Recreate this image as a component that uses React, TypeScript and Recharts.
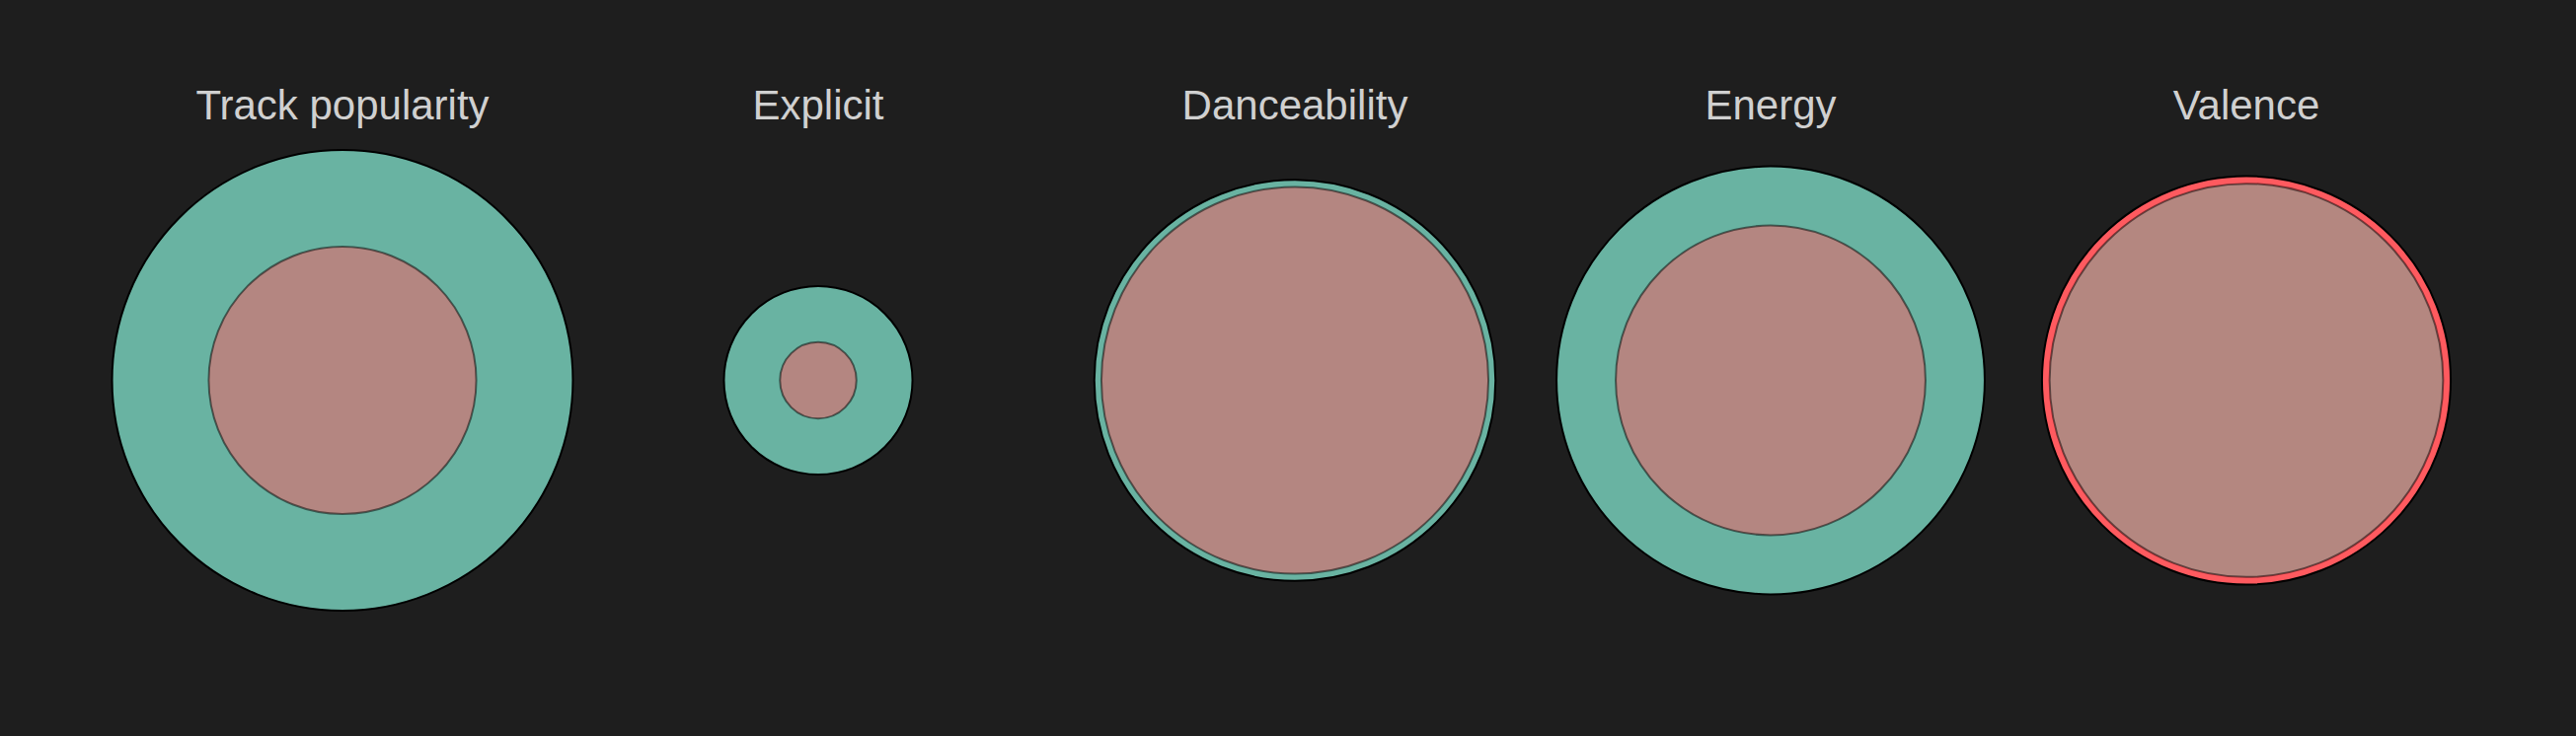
import { ScatterChart, Scatter, XAxis, YAxis, ZAxis } from "recharts";

// one panel per feature, teal = hits, red = non-hits (circle area ~ value)
const features = ["Track popularity", "Explicit", "Danceability", "Energy", "Valence"];
const hitValues = [87.2, 0.146, 0.661, 0.753, 0.636];
const nonHitValues = [29.4, 0.024, 0.615, 0.394, 0.686];
const featureMax = [100, 1, 1, 1, 1];

const TEAL = "#69b3a2";
const RED = "#ff5a5f";
const BG = "#1e1e1e";
const FULL_RADIUS = 250; // circle radius at the feature's max value
const PANEL_W = 482;
const PANEL_STEP = 482.3;
const PANEL_LEFT = 106;
const CHART_H = 746;

function Panel({ index }: { index: number }) {
  // bigger circle goes underneath, smaller one is drawn half transparent on top
  const series = [
    { name: "Hits", color: TEAL, value: hitValues[index] },
    { name: "Non-hits", color: RED, value: nonHitValues[index] },
  ].sort((a, b) => b.value - a.value);

  return (
    <ScatterChart
      width={PANEL_W}
      height={CHART_H}
      margin={{ top: 0, right: 0, bottom: 104, left: 0 }}
    >
      <XAxis
        type="number"
        dataKey="x"
        domain={[-1, 1]}
        orientation="top"
        height={129}
        ticks={[0]}
        tickFormatter={() => features[index]}
        axisLine={false}
        tickLine={false}
        tick={{
          fill: "#d0d0d0",
          fontSize: 42,
          fontFamily: '"Liberation Sans", Arial, sans-serif',
        }}
      />
      <YAxis type="number" dataKey="y" domain={[-1, 1]} hide />
      <ZAxis
        type="number"
        dataKey="z"
        domain={[0, featureMax[index]]}
        range={[0, Math.PI * FULL_RADIUS * FULL_RADIUS]}
      />
      {series.map((s, i) => (
        <Scatter
          key={s.name}
          name={s.name}
          data={[{ x: 0, y: 0, z: s.value }]}
          fill={s.color}
          stroke="#000"
          strokeWidth={2}
          fillOpacity={i === 0 ? 1 : 0.5}
          strokeOpacity={i === 0 ? 1 : 0.5}
          isAnimationActive={false}
        />
      ))}
    </ScatterChart>
  );
}

export default function App() {
  return (
    <div style={{ width: 2610, height: 746, background: BG, position: "relative" }}>
      <style>{`body { margin: 0; background: ${BG}; }`}</style>
      {features.map((f, i) => (
        <div
          key={f}
          style={{
            position: "absolute",
            top: 0,
            left: Math.round(PANEL_LEFT + i * PANEL_STEP),
          }}
        >
          <Panel index={i} />
        </div>
      ))}
    </div>
  );
}
